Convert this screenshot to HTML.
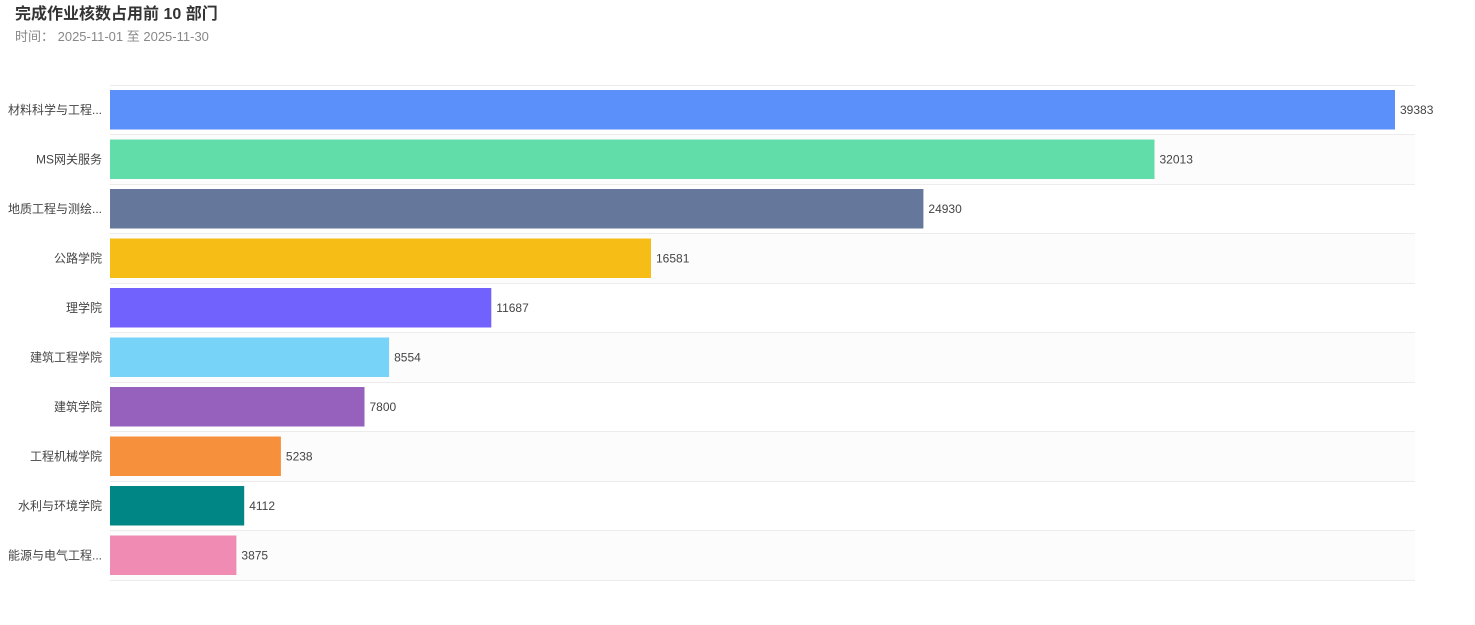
<!DOCTYPE html>
<html><head><meta charset="utf-8"><style>
body{margin:0;background:#fff;}
svg{display:block;font-family:"Liberation Sans","Noto Sans CJK SC",sans-serif;}
</style></head><body>
<svg width="1475" height="625" xmlns="http://www.w3.org/2000/svg">
<text x="15" y="19" font-size="16" font-weight="bold" fill="#333">完成作业核数占用前 10 部门</text>
<text x="15" y="41" font-size="13" fill="#888">时间：  2025-11-01 至 2025-11-30</text>
<g fill="#fcfcfc">
<rect x="110" y="134.5" width="1305" height="49.5"/>
<rect x="110" y="233.5" width="1305" height="49.5"/>
<rect x="110" y="332.5" width="1305" height="49.5"/>
<rect x="110" y="431.5" width="1305" height="49.5"/>
<rect x="110" y="530.5" width="1305" height="49.5"/>
</g>
<g stroke="#ececec" stroke-width="1">
<line x1="110" x2="1415" y1="85.5" y2="85.5"/><line x1="110" x2="1415" y1="134.5" y2="134.5"/>
<line x1="110" x2="1415" y1="184.5" y2="184.5"/><line x1="110" x2="1415" y1="233.5" y2="233.5"/>
<line x1="110" x2="1415" y1="283.5" y2="283.5"/><line x1="110" x2="1415" y1="332.5" y2="332.5"/>
<line x1="110" x2="1415" y1="382.5" y2="382.5"/><line x1="110" x2="1415" y1="431.5" y2="431.5"/>
<line x1="110" x2="1415" y1="481.5" y2="481.5"/><line x1="110" x2="1415" y1="530.5" y2="530.5"/>
<line x1="110" x2="1415" y1="580.5" y2="580.5"/>
</g>
<rect x="110" y="90" width="1285" height="39.5" fill="#5b8ff9"/>
<rect x="110" y="139.5" width="1044.5" height="39.5" fill="#61ddaa"/>
<rect x="110" y="189" width="813.4" height="39.5" fill="#65789b"/>
<rect x="110" y="238.5" width="541" height="39.5" fill="#f6bd16"/>
<rect x="110" y="288" width="381.3" height="39.5" fill="#7262fd"/>
<rect x="110" y="337.5" width="279.1" height="39.5" fill="#78d3f8"/>
<rect x="110" y="387" width="254.5" height="39.5" fill="#9661bc"/>
<rect x="110" y="436.5" width="170.9" height="39.5" fill="#f6903d"/>
<rect x="110" y="486" width="134.2" height="39.5" fill="#008685"/>
<rect x="110" y="535.5" width="126.4" height="39.5" fill="#f08bb4"/>
<g font-size="12" fill="#444" text-anchor="end">
<text x="102" y="114">材料科学与工程...</text>
<text x="102" y="163.5">MS网关服务</text>
<text x="102" y="213">地质工程与测绘...</text>
<text x="102" y="262.5">公路学院</text>
<text x="102" y="312">理学院</text>
<text x="102" y="361.5">建筑工程学院</text>
<text x="102" y="411">建筑学院</text>
<text x="102" y="460.5">工程机械学院</text>
<text x="102" y="510">水利与环境学院</text>
<text x="102" y="559.5">能源与电气工程...</text>
</g>
<g font-size="12" fill="#444">
<text x="1400" y="114">39383</text>
<text x="1159.5" y="163.5">32013</text>
<text x="928.4" y="213">24930</text>
<text x="656" y="262.5">16581</text>
<text x="496.3" y="312">11687</text>
<text x="394.1" y="361.5">8554</text>
<text x="369.5" y="411">7800</text>
<text x="285.9" y="460.5">5238</text>
<text x="249.2" y="510">4112</text>
<text x="241.4" y="559.5">3875</text>
</g>
</svg>
</body></html>
